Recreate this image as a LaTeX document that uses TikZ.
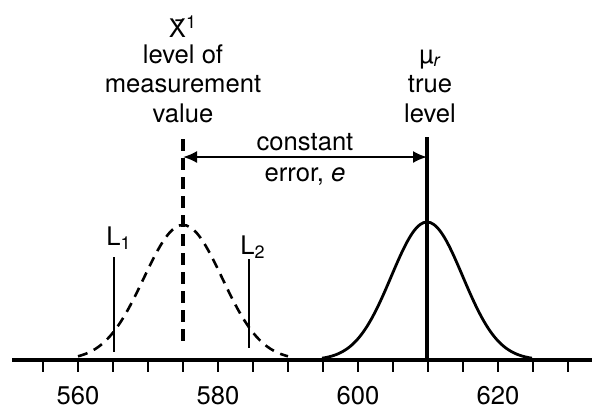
\documentclass[tikz,border=0pt]{standalone}
\usepackage{fontspec}
\setmainfont{TeX Gyre Heros}
\usetikzlibrary{arrows.meta, positioning}
\tikzset{
	labelnode/.style={
			font=\fontsize{12.8}{15}\selectfont,
			anchor=base,
			inner sep=0pt
		},
	ticklabel/.style={
			font=\fontsize{12.8}{15}\selectfont,
			inner sep=0pt
		},
	axisline/.style={
			line width=2pt
		},
	tickline/.style={
			line width=1.2pt
		},
	meanline/.style={
			line width=2.3pt,
			dash pattern=on 6pt off 3.5pt
		},
	trueline/.style={
			line width=2pt
		},
	limitline/.style={
			line width=1.2pt
		},
	measurecurve/.style={
			line width=1.3pt,
			dash pattern=on 5pt off 3.5pt
		},
	truecurve/.style={
			line width=1.4pt
		},
	errorarrow/.style={
			line width=1pt,
			{Latex[length=7pt,width=6pt]}-{Latex[length=7pt,width=6pt]}
		}
}

\begin{document}
\begin{tikzpicture}[x=0.5pt, y=-0.5pt]
  \useasboundingbox (0,0) rectangle (592,409);

  % axis with ticks every 5, labels every 20
  \coordinate (a0) at (12,360);
  \coordinate (a1) at (592,360);
  \draw[axisline] (a0) -- (a1);
  \foreach \v in {555,560,...,630}
    \draw[tickline] ({7*\v-3842},360) -- ++(0,12);
  \foreach \v in {560,580,600,620}
    \node[ticklabel] (t\v) at ({7*\v-3842},396) {\v};

  % measured distribution (dashed)
  \draw[measurecurve] plot[domain=-15:15, samples=61, smooth]
    ({183+7*\x},{360-135*exp(-\x*\x/(2*5.6*5.6))});

  % true distribution
  \draw[truecurve] plot[domain=-15:15, samples=61, smooth]
    ({427+7*\x},{360-138*exp(-\x*\x/(2*5.1*5.1))});

  % vertical markers
  \coordinate (meantop) at (183,139);
  \coordinate (meanbot) at (183,348);
  \coordinate (truetop) at (427,137);
  \coordinate (truebot) at (427,360);
  \draw[meanline] (meantop) -- (meanbot);
  \draw[trueline] (truetop) -- (truebot);

  \coordinate (l1top) at (114,257);
  \coordinate (l1bot) at (114,352);
  \coordinate (l2top) at (249,259);
  \coordinate (l2bot) at (249,348);
  \draw[limitline] (l1top) -- (l1bot);
  \draw[limitline] (l2top) -- (l2bot);
  \node[labelnode] (L1) at (119,245) {L\textsubscript{1}};
  \node[labelnode] (L2) at (253,254) {L\textsubscript{2}};

  % constant error
  \coordinate (errleft) at (183,157);
  \coordinate (errright) at (427,157);
  \draw[errorarrow] (errleft) -- (errright);
  \node[labelnode] (const) at (305,150) {constant};
  \node[labelnode] (err) at (305,181) {error, \textit{e}};

  % headings
  \node[labelnode] (xbar) at (183,37) {\={X}\textsuperscript{1}};
  \node[labelnode] (lvlof) at (183,63) {level of};
  \node[labelnode] (meas) at (183,92) {measurement};
  \node[labelnode] (value) at (183,122) {value};
  \node[labelnode] (mu) at (430,63) {µ\textsubscript{\itshape r}};
  \node[labelnode] (truetxt) at (430,92) {true};
  \node[labelnode] (lvl) at (430,122) {level};

\end{tikzpicture}
\end{document}
